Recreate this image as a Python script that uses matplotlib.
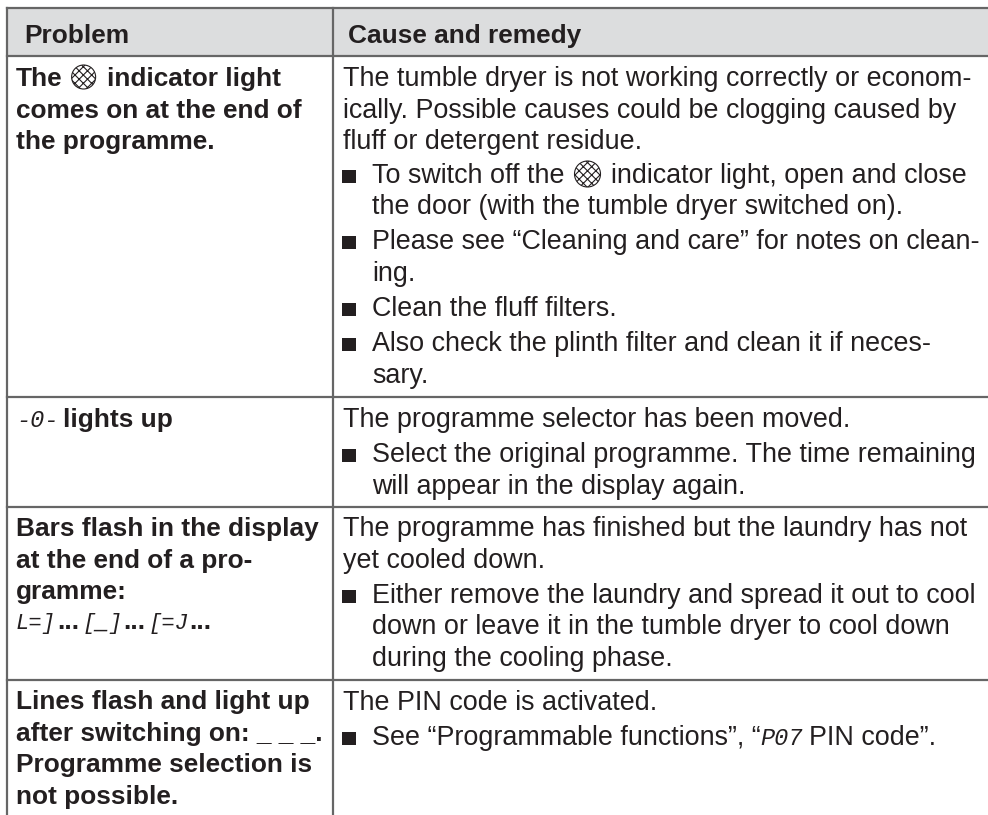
#!/usr/bin/env python3
import matplotlib
matplotlib.use('Agg')
import matplotlib.pyplot as plt
from matplotlib.patches import Rectangle, Circle

# table content
headers = ['Problem', 'Cause and remedy']
header_x = [24, 348]
header_y = 43

row_lines = [56, 397, 507, 680]

# left column: (y baseline, text)
left_lines = [
    (118, 'comes on at the end of'),
    (149, 'the programme.'),
    (536, 'Bars flash in the display'),
    (568, 'at the end of a pro-'),
    (599, 'gramme:'),
    (709, 'Lines flash and light up'),
    (741, 'after switching on: _ _ _.'),
    (772, 'Programme selection is'),
    (804, 'not possible.'),
]

# right column: (y baseline, has bullet, text), @ marks a wrapped bullet line
right_lines = [
    (86, 0, 'The tumble dryer is not working correctly or econom-'),
    (118, 0, 'ically. Possible causes could be clogging caused by'),
    (149, 0, 'fluff or detergent residue.'),
    (214, 0, '@the door (with the tumble dryer switched on).'),
    (249, 1, 'Please see “Cleaning and care” for notes on clean-'),
    (281, 0, '@ing.'),
    (316, 1, 'Clean the fluff filters.'),
    (351, 1, 'Also check the plinth filter and clean it if neces-'),
    (383, 0, '@sary.'),
    (427, 0, 'The programme selector has been moved.'),
    (462, 1, 'Select the original programme. The time remaining'),
    (494, 0, '@will appear in the display again.'),
    (536, 0, 'The programme has finished but the laundry has not'),
    (568, 0, 'yet cooled down.'),
    (603, 1, 'Either remove the laundry and spread it out to cool'),
    (634, 0, '@down or leave it in the tumble dryer to cool down'),
    (666, 0, '@during the cooling phase.'),
    (710, 0, 'The PIN code is activated.'),
]

fig = plt.figure(figsize=(9.88, 8.15), dpi=100)
ax = fig.add_axes([0, 0, 1, 1])
ax.set_xlim(0, 988)
ax.set_ylim(815, 0)
ax.axis('off')

line_col = '#666666'
text_col = '#231f20'
body = dict(fontsize=19.4, family='Liberation Sans', color=text_col, va='baseline')
bold = dict(body, fontsize=18.9, fontweight='bold')
digit = dict(fontsize=17, family='Liberation Mono', style='italic', color=text_col, va='baseline')
bars = dict(digit, fontsize=16)
renderer = fig.canvas.get_renderer()


# put text pieces one after the other, returns the x where the last one ended
def run(x, y, text, **kw):
    t = ax.text(x, y, text, **kw)
    return t.get_window_extent(renderer).x1


def bullet(y):
    ax.add_patch(Rectangle((342, y - 13), 14, 13, fc=text_col, ec='none'))


def indicator(cx, cy, r):
    plt.rcParams['hatch.linewidth'] = 0.8
    ax.add_patch(Circle((cx, cy), r, fc='white', ec=text_col, lw=0.8, hatch='xxxx'))


# header band and rules
ax.add_patch(Rectangle((7, 8), 981, 48, fc='#dcddde', ec='none'))
ax.plot([7, 988], [8, 8], color=line_col, lw=1.6)
for y in row_lines:
    ax.plot([7, 988], [y, y], color=line_col, lw=1.6)
ax.plot([7, 7], [8, 815], color=line_col, lw=1.6)
ax.plot([333, 333], [8, 815], color=line_col, lw=1.6)

for x, h in zip(header_x, headers):
    ax.text(x, header_y, h, **bold)

for y, t in left_lines:
    ax.text(16, y, t, **bold)

for y, b, t in right_lines:
    if b:
        bullet(y)
    if b or t.startswith('@'):
        ax.text(372, y, t.lstrip('@'), **body)
    else:
        ax.text(343, y, t, **body)

# lines with a symbol inside them
x = run(16, 86, 'The', **bold)
indicator(x + 21, 77, 12)
ax.text(x + 44, 86, 'indicator light', **bold)

bullet(183)
x = run(372, 183, 'To switch off the', **body)
indicator(x + 23, 174, 13)
ax.text(x + 46, 183, 'indicator light, open and close', **body)

x = run(16, 427, '-0-', **digit)
ax.text(x + 5, 427, 'lights up', **bold)

# bars in the display
x = 16
for glyph in ['L=]', '[_]', '[=J']:
    x = run(x, 629, glyph, **bars)
    x = run(x + 1, 629, '...', **bold) + 3

bullet(745)
x = run(372, 745, 'See “Programmable functions”, “', **body)
x = run(x, 745, 'P07', **digit)
ax.text(x + 6, 745, 'PIN code”.', **body)

fig.savefig('out.png', dpi=100)
